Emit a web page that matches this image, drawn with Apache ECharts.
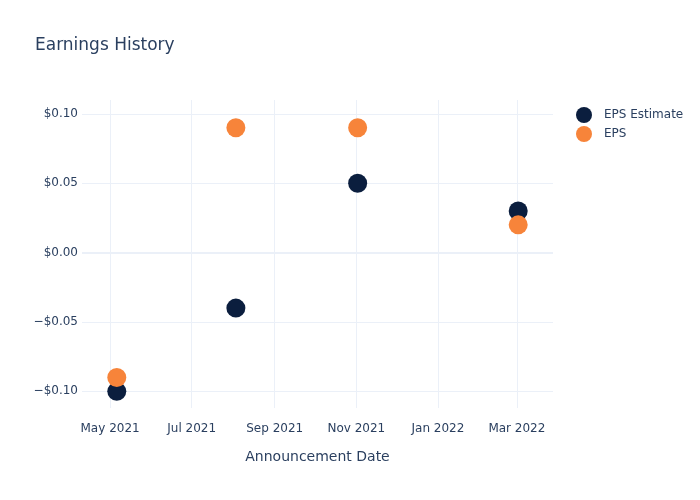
<!DOCTYPE html>
<html>
<head>
<meta charset="utf-8">
<script src="https://cdn.jsdelivr.net/npm/echarts@6/dist/echarts.min.js"></script>
<style>html,body{margin:0;padding:0;background:#fff}#c{width:700px;height:500px}</style>
</head>
<body>
<div id="c"></div>
<script>
const dates = ['2021-05-06', '2021-08-03', '2021-11-02', '2022-03-02'];
const epsEstimate = [-0.10, -0.04, 0.05, 0.03];
const eps = [-0.09, 0.09, 0.09, 0.02];
const xTicks = ['2021-05-01', '2021-07-01', '2021-09-01', '2021-11-01', '2022-01-01', '2022-03-01'];
const yTicks = [-0.10, -0.05, 0.00, 0.05, 0.10];
const monthNames = ['Jan','Feb','Mar','Apr','May','Jun','Jul','Aug','Sep','Oct','Nov','Dec'];

const ts = s => { const p = s.split('-'); return Date.UTC(+p[0], +p[1]-1, +p[2]); };
const font = 'DejaVu Sans';
const txt = '#2a3f5f';
const grid = '#ebf0f8';

const chart = echarts.init(document.getElementById('c'));
chart.setOption({
  animation: false,
  backgroundColor: '#fff',
  title: {
    text: 'Earnings History', left: 30, top: 32,
    textStyle: { fontFamily: font, fontSize: 17, fontWeight: 'normal', color: txt }
  },
  legend: {
    orient: 'vertical', left: 571, top: 102, itemGap: 3,
    itemWidth: 16, itemHeight: 16, icon: 'circle',
    textStyle: { fontFamily: font, fontSize: 12, color: txt, padding: [0, 0, 0, 7] },
    data: ['EPS Estimate', 'EPS']
  },
  grid: { left: 82, right: 147, top: 100, bottom: 92 },
  xAxis: {
    type: 'value',
    min: ts('2021-04-10'), max: ts('2022-03-28'),
    name: 'Announcement Date', nameLocation: 'middle', nameGap: 42,
    nameTextStyle: { fontFamily: font, fontSize: 14, color: txt },
    axisLine: { show: false },
    axisTick: { show: false, customValues: xTicks.map(ts) },
    axisLabel: {
      customValues: xTicks.map(ts),
      fontFamily: font, fontSize: 12, color: txt, margin: 15,
      formatter: v => { const d = new Date(v); return monthNames[d.getUTCMonth()] + ' ' + d.getUTCFullYear(); }
    },
    splitLine: { show: true, lineStyle: { color: grid, width: 1 } }
  },
  yAxis: {
    type: 'value', min: -0.112, max: 0.110,
    axisLine: { show: false },
    axisTick: { show: false, customValues: yTicks },
    axisLabel: {
      customValues: yTicks,
      fontFamily: font, fontSize: 12, color: txt, margin: 4,
      formatter: v => (v < -1e-9 ? '\u2212$' : '$') + Math.abs(v).toFixed(2)
    },
    splitLine: { show: true, lineStyle: { color: grid, width: 1 } }
  },
  series: [
    {
      name: 'EPS Estimate', type: 'scatter', symbolSize: 19,
      itemStyle: { color: '#0b1e3e', opacity: 1 },
      data: dates.map((d, i) => [ts(d), epsEstimate[i]]),
      markLine: {
        silent: true, symbol: 'none', label: { show: false },
        lineStyle: { color: grid, width: 2, type: 'solid' },
        data: [{ yAxis: 0 }], z: 1
      },
      z: 3
    },
    {
      name: 'EPS', type: 'scatter', symbolSize: 19,
      itemStyle: { color: '#f7843a', opacity: 1 },
      data: dates.map((d, i) => [ts(d), eps[i]]),
      z: 4
    }
  ]
});
</script>
</body>
</html>
